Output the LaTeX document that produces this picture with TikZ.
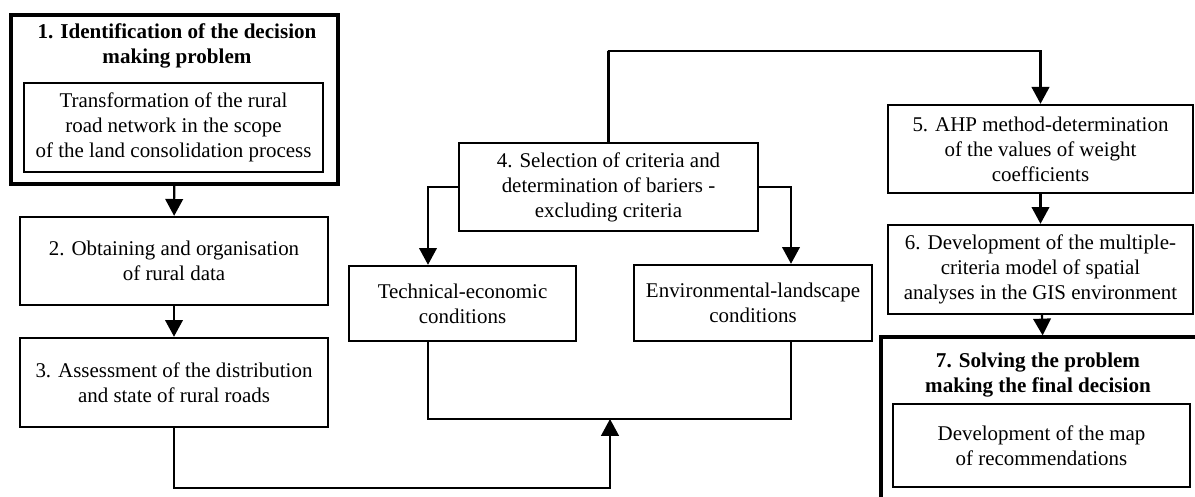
\documentclass[tikz,border=0pt]{standalone}
\usepackage{fontspec}
\setmainfont{Liberation Serif}
\usetikzlibrary{arrows.meta}

\begin{document}
\begin{tikzpicture}[
		every node/.style={font=\fontsize{14.9}{17.8}\selectfont, align=center, inner sep=0pt},
		stage/.style={rectangle, draw, line width=1.7pt},
		mainstage/.style={rectangle, draw, line width=2.2pt},
		title/.style={font=\fontsize{15}{17.8}\selectfont\bfseries},
		conn/.style={line width=1.5pt},
		arr/.style={conn, -{Triangle[length=0.42cm, width=0.44cm]}}
	]
  \useasboundingbox (0,0) rectangle (29.875,-12.425);
  % left column
  \node (b1) [mainstage, minimum width=8.175cm, minimum height=4.225cm] at (4.3625,-2.4875) {};
  \node (b1_title) [title] at (4.425,-1.15) {1. Identification of the decision\\making problem};
  \node (b1_in) [stage, minimum width=7.475cm, minimum height=2.225cm] at (4.3375,-3.1875) {Transformation of the rural\\road network in the scope\\of the land consolidation process};
  \node (b2) [stage, minimum width=7.7cm, minimum height=2.2cm] at (4.35,-6.525) {2. Obtaining and organisation\\of rural data};
  \node (b3) [stage, minimum width=7.7cm, minimum height=2.225cm] at (4.35,-9.5625) {3. Assessment of the distribution\\and state of rural roads};
  % middle
  \node (b4) [stage, minimum width=7.475cm, minimum height=2.2cm] at (15.2125,-4.675) {4. Selection of criteria and\\determination of bariers -\\excluding criteria};
  \node (tech) [stage, minimum width=5.675cm, minimum height=1.875cm] at (11.5625,-7.5875) {Technical-economic\\conditions};
  \node (env) [stage, minimum width=5.95cm, minimum height=1.9cm] at (18.825,-7.575) {Environmental-landscape\\conditions};
  % right column
  \node (b5) [stage, minimum width=7.625cm, minimum height=2.2cm] at (26.0125,-3.725) {5. AHP method-determination\\of the values of weight\\coefficients};
  \node (b6) [stage, minimum width=7.625cm, minimum height=2.225cm] at (26.0125,-6.7375) {6. Development of the multiple-\\criteria model of spatial\\analyses in the GIS environment};
  \node (b7) [mainstage, minimum width=8.225cm, minimum height=4.325cm] at (26.1375,-10.5875) {};
  \node (b7_title) [title] at (25.95,-9.375) {7. Solving the problem\\making the final decision};
  \node (b7_in) [stage, minimum width=7.425cm, minimum height=2.075cm] at (26.0375,-11.1375) {Development of the map\\of recommendations};
  % joints
  \coordinate (tl) at (10.7,-10.475);
  \coordinate (tr) at (19.775,-10.475);
  \coordinate (mid) at (15.25,-10.475);
  \coordinate (low) at (15.25,-12.2);
  \coordinate (top) at (15.2,-1.275);
  \draw[arr] (b1) -- (b2);
  \draw[arr] (b2) -- (b3);
  \draw[arr] (b3.south) |- (low) -- (mid);
  \draw[conn] (tl |- tech.south) |- (tr) -- (tr |- env.south);
  \draw[arr] (b4.west) -| (tl |- tech.north);
  \draw[arr] (b4.east) -| (tr |- env.north);
  \draw[arr] (b4.north) |- (top) -| (b5.north);
  \draw[arr] (b5) -- (b6);
  \draw[arr] (b6) -- (b7);
\end{tikzpicture}
\end{document}
